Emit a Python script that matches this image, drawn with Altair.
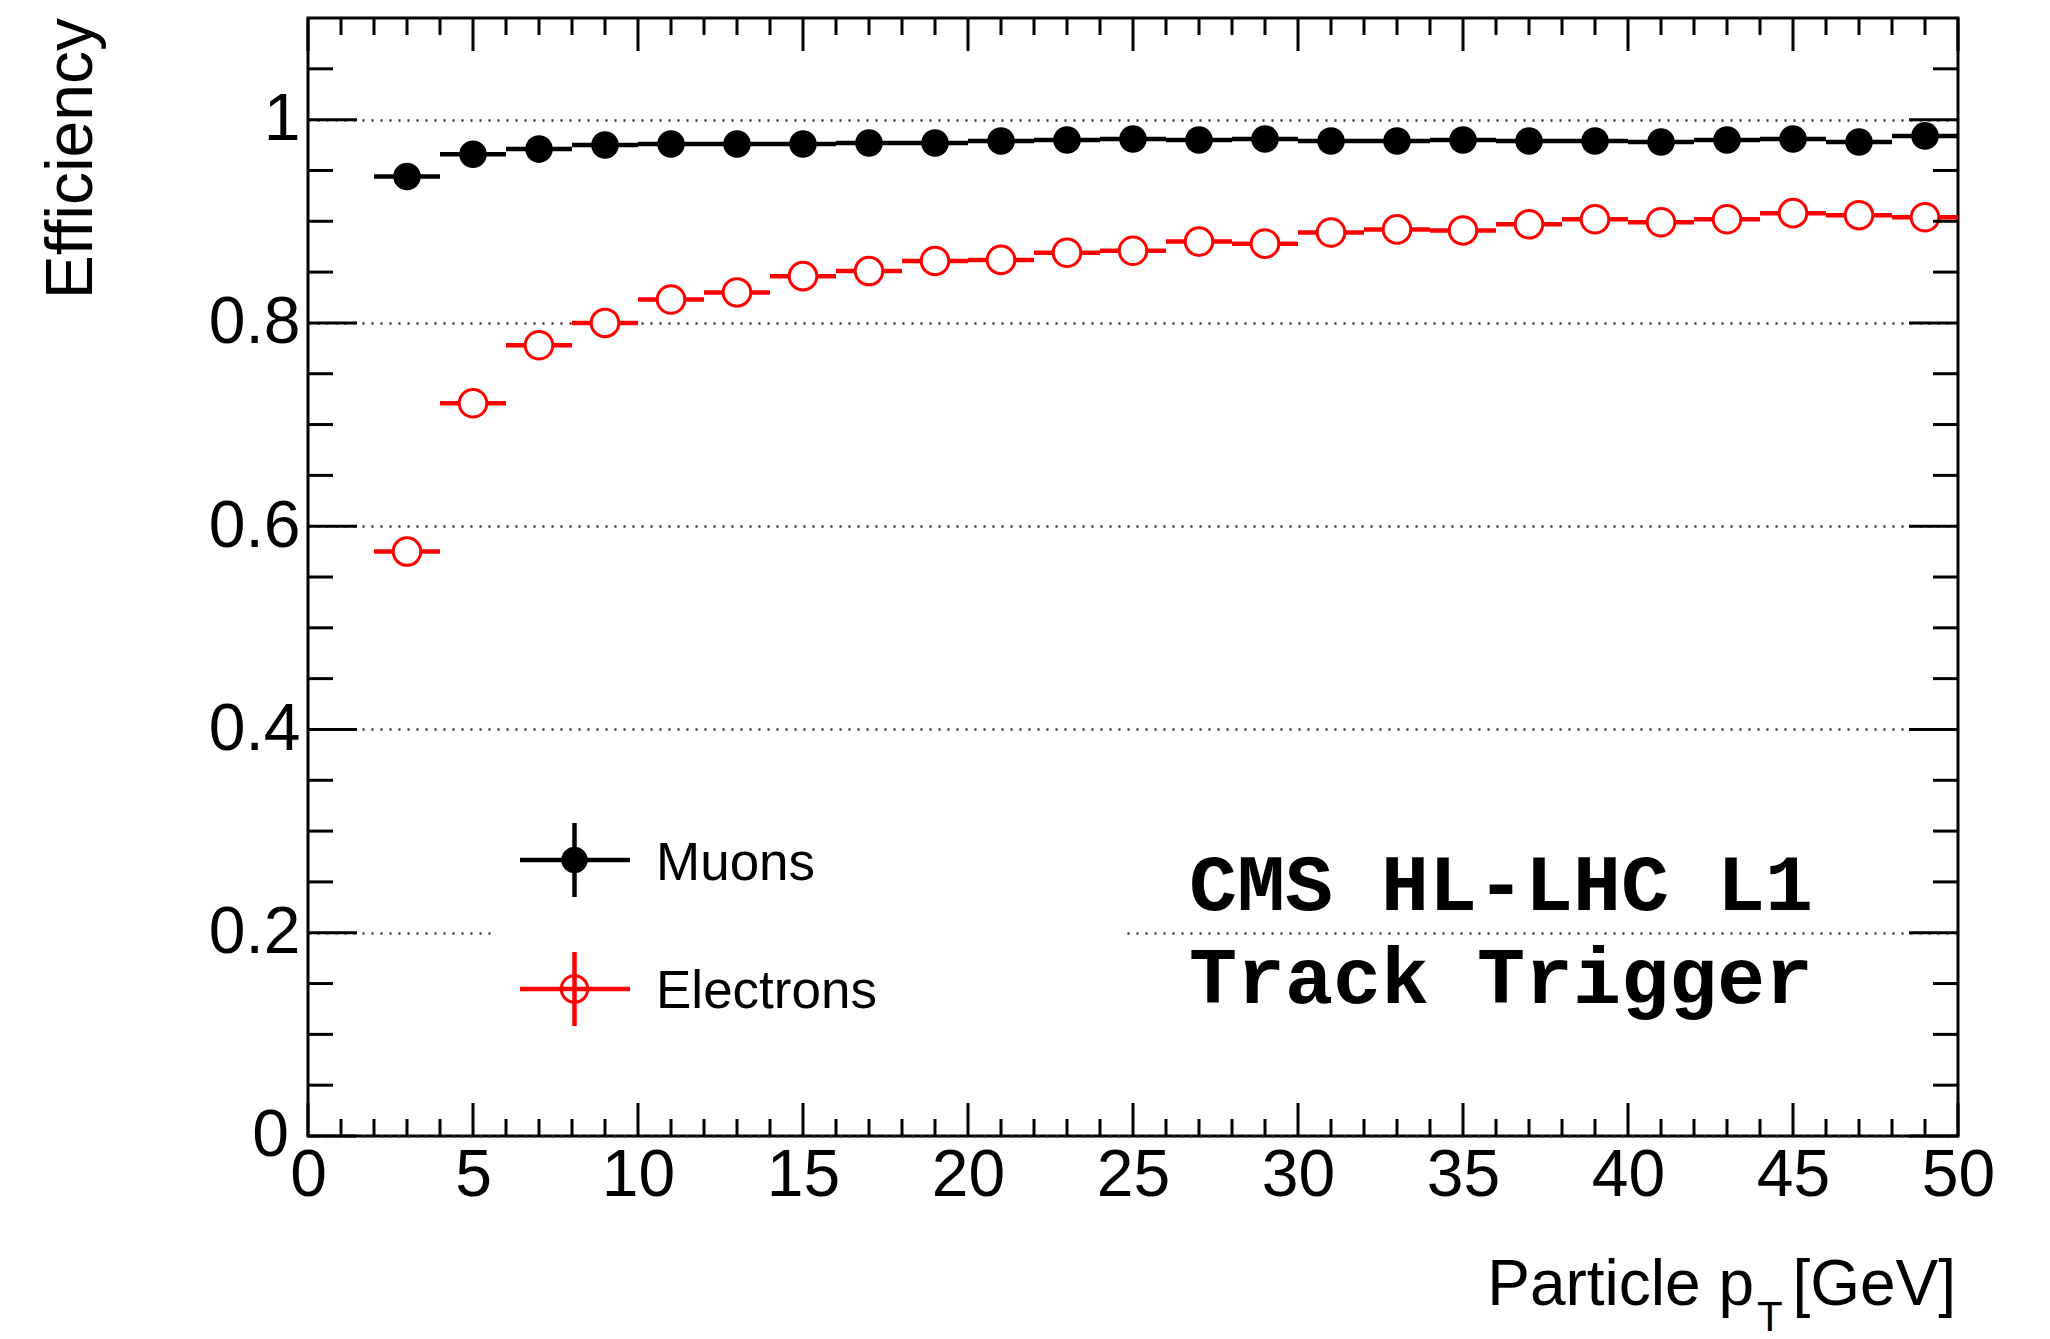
import altair as alt
import pandas as pd

# Efficiency vs particle pT, 2 GeV bins from 2 to 50 GeV
pt_low = [2, 4, 6, 8, 10, 12, 14, 16, 18, 20, 22, 24, 26, 28, 30, 32, 34, 36, 38, 40, 42, 44, 46, 48]
pt_high = [4, 6, 8, 10, 12, 14, 16, 18, 20, 22, 24, 26, 28, 30, 32, 34, 36, 38, 40, 42, 44, 46, 48, 50]
pt_center = [3, 5, 7, 9, 11, 13, 15, 17, 19, 21, 23, 25, 27, 29, 31, 33, 35, 37, 39, 41, 43, 45, 47, 49]

muon_eff = [0.944, 0.966, 0.971, 0.975, 0.976, 0.976, 0.976, 0.977, 0.977, 0.979, 0.980, 0.981,
            0.980, 0.981, 0.979, 0.979, 0.980, 0.979, 0.979, 0.978, 0.980, 0.981, 0.978, 0.984]
electron_eff = [0.575, 0.721, 0.778, 0.800, 0.823, 0.830, 0.846, 0.851, 0.861, 0.862, 0.869, 0.871,
                0.880, 0.878, 0.889, 0.892, 0.891, 0.897, 0.902, 0.899, 0.902, 0.908, 0.906, 0.904]

series_names = ["Muons", "Electrons"]
series_colors = ["#000000", "#ff0000"]

x_major = [0, 5, 10, 15, 20, 25, 30, 35, 40, 45, 50]
x_minor = [v for v in range(0, 51) if v % 5 != 0]
y_major = [0, 0.2, 0.4, 0.6, 0.8, 1.0]
y_minor = [0.05, 0.1, 0.15, 0.25, 0.3, 0.35, 0.45, 0.5, 0.55, 0.65, 0.7, 0.75,
           0.85, 0.9, 0.95, 1.05]

W, H = 1650, 1118
SANS = "Liberation Sans"
MARKER = 760
LABEL_SIZE = 66

x_scale = alt.Scale(domain=[0, 50], nice=False, zero=False)
y_scale = alt.Scale(domain=[0, 1.1], nice=False, zero=False)

x_axis = alt.Axis(values=x_major, title=None, grid=False, labelPadding=7,
                  labelFontSize=LABEL_SIZE, format="d", labelFlush=False)
# the y zero label is drawn separately, set a little further left
y_axis = alt.Axis(values=y_major, title=None, grid=True, gridDash=[2, 7],
                  gridColor="#333333", gridWidth=2.5, labelPadding=8,
                  labelFontSize=LABEL_SIZE, labelFlush=False,
                  labelExpr="datum.value == 0 ? '' : datum.value == 1 ? '1' : format(datum.value, '.1f')")


def X(field, **kw):
    return alt.X(field, scale=x_scale, axis=x_axis, **kw)


def Y(field, **kw):
    return alt.Y(field, scale=y_scale, axis=y_axis, **kw)


def series_frame(values):
    return pd.DataFrame({"lo": pt_low, "hi": pt_high, "pt": pt_center, "eff": values})


mu = series_frame(muon_eff)
el = series_frame(electron_eff)

# white legend background hides the grid line behind it
legend_bg = alt.Chart(pd.DataFrame({"k": [0]})).mark_rect(color="white").encode(
    x=alt.value(188), x2=alt.value(816), y=alt.value(790), y2=alt.value(1050)
)


def bars(df, color):
    return alt.Chart(df).mark_rule(color=color, strokeWidth=4.5).encode(
        x=X("lo:Q"), x2="hi:Q", y=Y("eff:Q"),
    )


mu_bars = bars(mu, series_colors[0])
el_bars = bars(el, series_colors[1])

mu_pts = alt.Chart(mu).mark_point(shape="circle", filled=True, size=MARKER,
                                  color=series_colors[0], opacity=1).encode(
    x=X("pt:Q"), y=Y("eff:Q"),
)
el_pts = alt.Chart(el).mark_point(shape="circle", filled=False, size=MARKER, fill="white",
                                  fillOpacity=1, stroke=series_colors[1], strokeWidth=3,
                                  opacity=1).encode(
    x=X("pt:Q"), y=Y("eff:Q"),
)


# inward-pointing ticks on all four sides
def xticks(vals, length, top):
    df = pd.DataFrame({"t": vals})
    y0, y1 = (0, length) if top else (H, H - length)
    return alt.Chart(df).mark_rule(color="black", strokeWidth=3).encode(
        x=X("t:Q"), y=alt.value(y0), y2=alt.value(y1)
    )


def yticks(vals, length, right):
    df = pd.DataFrame({"t": vals})
    x0, x1 = (W, W - length) if right else (0, length)
    return alt.Chart(df).mark_rule(color="black", strokeWidth=3).encode(
        y=Y("t:Q"), x=alt.value(x0), x2=alt.value(x1)
    )


ticks = [
    xticks(x_major, 33, False), xticks(x_minor, 17, False),
    xticks(x_major, 33, True), xticks(x_minor, 17, True),
    yticks(y_major, 49, False), yticks(y_minor, 25, False),
    yticks(y_major, 49, True), yticks(y_minor, 25, True),
]

# y-axis zero label
y_zero = alt.Chart(pd.DataFrame({"v": [0], "s": ["0"]})).mark_text(
    font=SANS, fontSize=LABEL_SIZE, align="right", baseline="middle", color="black"
).encode(x=alt.value(-19), y=Y("v:Q"), text="s:N")

# legend entries
legend_layers = []
legend_rows = [(842, 862), (971, 990)]
for name, color, (cy, base) in zip(series_names, series_colors, legend_rows):
    one = pd.DataFrame({"label": [name]})
    legend_layers.append(alt.Chart(one).mark_rule(color=color, strokeWidth=4.5).encode(
        x=alt.value(212), x2=alt.value(322), y=alt.value(cy)))
    legend_layers.append(alt.Chart(one).mark_rule(color=color, strokeWidth=4.5).encode(
        x=alt.value(266.5), y=alt.value(cy - 37), y2=alt.value(cy + 37)))
    if name == "Muons":
        legend_layers.append(alt.Chart(one).mark_point(shape="circle", filled=True, size=700,
                                                       color=color, opacity=1).encode(
            x=alt.value(266.5), y=alt.value(cy)))
    else:
        legend_layers.append(alt.Chart(one).mark_point(shape="circle", filled=False, size=700,
                                                       stroke=color, strokeWidth=3,
                                                       opacity=1).encode(
            x=alt.value(266.5), y=alt.value(cy)))
    legend_layers.append(alt.Chart(one).mark_text(font=SANS, fontSize=53, align="left",
                                                  baseline="alphabetic", color="black").encode(
        x=alt.value(348), y=alt.value(base), text="label:N"))

# CMS label
cms_lines = ["CMS HL-LHC L1", "Track Trigger"]
cms_layers = [
    alt.Chart(pd.DataFrame({"s": [line]})).mark_text(
        font="Liberation Mono", fontWeight="bold", fontSize=80, align="left",
        baseline="alphabetic", color="black").encode(
        x=alt.value(881), y=alt.value(base), text="s:N")
    for line, base in zip(cms_lines, [892, 985])
]


# axis titles
def label(txt, x, y, size, align, angle=0):
    return alt.Chart(pd.DataFrame({"s": [txt]})).mark_text(
        font=SANS, fontSize=size, align=align, baseline="alphabetic",
        angle=angle, color="black").encode(x=alt.value(x), y=alt.value(y), text="s:N")


titles = [
    label("Efficiency", -216, 0, 66, "right", 270),
    label("Particle p", 1446, 1287, 64, "right"),
    label("T", 1449, 1313, 42, "left"),
    label("[GeV]", 1648, 1287, 64, "right"),
]

chart = alt.layer(
    legend_bg, mu_bars, el_bars, mu_pts, el_pts,
    *ticks, y_zero, *legend_layers, *cms_layers, *titles
).properties(
    width=W, height=H,
    padding={"left": 308, "top": 18, "right": 92, "bottom": 203},
    autosize=alt.AutoSizeParams(type="none"),
    background="white",
).configure_view(
    stroke="black", strokeWidth=3
).configure_axis(
    domain=False, ticks=False, labelFont=SANS, labelColor="black"
)

chart.save("out.html", embed_options={"renderer": "svg", "actions": False})
